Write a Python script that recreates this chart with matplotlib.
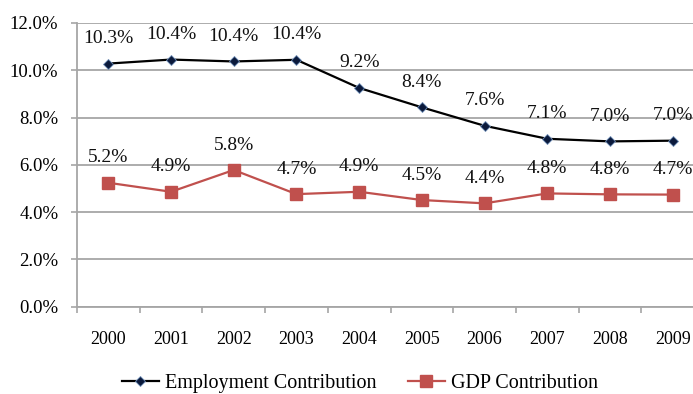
import numpy as np
import matplotlib.pyplot as plt
from matplotlib.ticker import FixedLocator, FuncFormatter

years = ['2000', '2001', '2002', '2003', '2004', '2005', '2006', '2007', '2008', '2009']
employment = [10.28, 10.45, 10.37, 10.44, 9.25, 8.43, 7.65, 7.10, 6.99, 7.02]
employment_labels = ['10.3%', '10.4%', '10.4%', '10.4%', '9.2%', '8.4%', '7.6%', '7.1%', '7.0%', '7.0%']
gdp = [5.24, 4.86, 5.78, 4.76, 4.86, 4.51, 4.37, 4.79, 4.75, 4.74]
gdp_labels = ['5.2%', '4.9%', '5.8%', '4.7%', '4.9%', '4.5%', '4.4%', '4.8%', '4.8%', '4.7%']

plt.rcParams['font.family'] = ['Liberation Serif', 'DejaVu Serif']

fig = plt.figure(figsize=(6.93, 3.94), dpi=100)
ax = fig.add_axes([77 / 693, 1 - 306.7 / 394, 627 / 693, 283.8 / 394])

x = np.arange(len(years))
ax.plot(x, employment, color='black', lw=1.6, marker='D', ms=5,
        mfc='#0b1a3c', mec='#6f8fb8', mew=0.6, label='Employment Contribution', zorder=3)
ax.plot(x, gdp, color='#c0504d', lw=1.6, marker='s', ms=8,
        mfc='#c0504d', mec='#c0504d', label='GDP Contribution', zorder=3)

# data labels above each point
for xi, v, t in zip(x, employment, employment_labels):
    ax.annotate(t, (xi, v), xytext=(0, 18), textcoords='offset points',
                ha='center', va='center', fontsize=14, color='#111111')
for xi, v, t in zip(x, gdp, gdp_labels):
    ax.annotate(t, (xi, v), xytext=(0, 18), textcoords='offset points',
                ha='center', va='center', fontsize=14, color='#111111')

ax.set_xlim(-0.5, 9.5)
ax.set_ylim(0, 12)
ax.set_yticks(np.arange(0, 12.1, 2))
ax.yaxis.set_major_formatter(FuncFormatter(lambda v, p: f'{v:.1f}%'))
ax.yaxis.grid(True, color='#a6a6a6', lw=1.3)
ax.set_axisbelow(True)

ax.set_xticks(x)
ax.set_xticklabels(years)
ax.xaxis.set_minor_locator(FixedLocator(np.arange(-0.5, 10, 1)))
ax.tick_params(axis='x', which='major', length=0, pad=17.5, labelsize=13)
ax.tick_params(axis='x', which='minor', length=4.5, width=1.2, color='#a6a6a6', direction='out')
ax.tick_params(axis='y', length=4.5, width=1.2, color='#a6a6a6', pad=9, labelsize=13.5)

for s in ['top', 'right']:
    ax.spines[s].set_visible(False)
for s in ['left', 'bottom']:
    ax.spines[s].set_color('#a6a6a6')
    ax.spines[s].set_linewidth(1.3)

leg = fig.legend(loc='center', bbox_to_anchor=(360 / 693, 1 - 383 / 394), ncol=2,
                 frameon=False, fontsize=14.5, handlelength=1.8, columnspacing=1.6,
                 handletextpad=0.3, borderpad=0)

fig.savefig('out.png', dpi=100)
